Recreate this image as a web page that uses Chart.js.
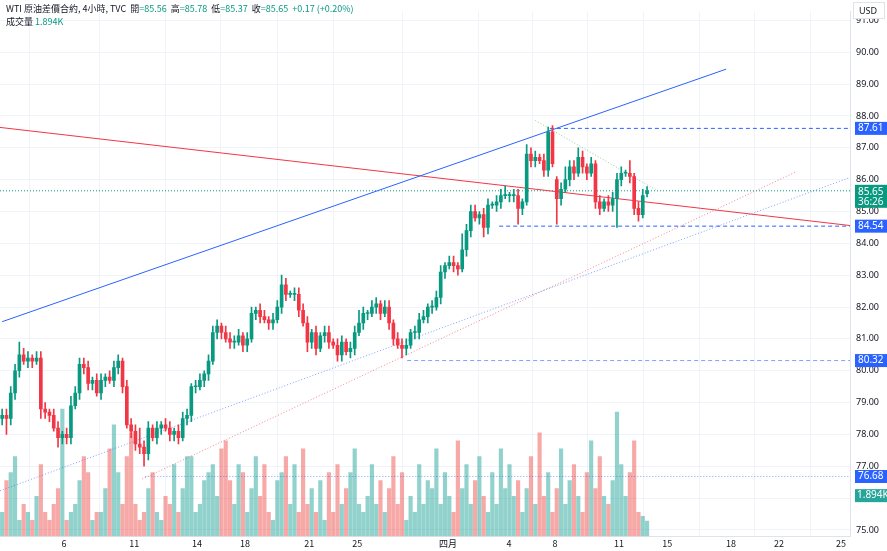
<!DOCTYPE html>
<html><head><meta charset="utf-8">
<script src="https://cdn.jsdelivr.net/npm/chart.js@4"></script>
<style>html,body{margin:0;padding:0;background:#fff}#w{width:887px;height:551px}</style>
</head><body><div id="w"><canvas id="c"></canvas></div>
<script>
const opens=[78.5,78.6,78.5,79.3,80.0,80.5,80.3,80.4,80.3,80.4,
78.8,78.7,78.6,78.2,77.9,78.0,77.9,78.9,79.3,80.2,
80.1,79.6,79.7,79.3,79.7,79.8,79.7,80.1,80.3,79.5,
78.3,78.1,77.7,77.6,77.4,78.2,77.9,78.2,78.3,78.2,
78.0,78.1,77.9,78.5,78.6,79.5,79.5,79.7,79.9,80.3,
81.2,81.4,81.2,81.0,80.9,80.9,81.1,80.8,81.0,81.8,
81.9,81.7,81.6,81.5,81.6,82.0,82.7,82.4,82.4,82.4,
81.9,81.5,80.9,81.2,80.7,81.1,81.2,80.9,80.8,80.5,
80.9,80.6,80.7,81.2,81.5,81.8,81.8,82.0,82.1,81.8,
82.0,81.5,81.0,80.8,80.7,80.8,81.2,81.2,81.6,81.7,
82.0,82.0,82.3,83.1,83.3,83.4,83.3,83.2,83.8,84.4,
85.0,84.8,84.9,84.5,85.2,85.2,85.3,85.5,85.5,85.5,
85.5,85.1,85.3,86.8,86.6,86.7,86.6,86.3,87.5,86.0,
85.4,85.7,86.0,86.4,86.2,86.7,86.4,86.2,86.5,85.3,
85.1,85.3,85.2,85.4,86.0,86.2,86.2,86.1,85.1,84.9,
85.56];
const closes=[78.6,78.5,79.3,80.0,80.5,80.3,80.4,80.3,80.4,78.8,
78.7,78.6,78.2,77.9,78.0,77.9,78.9,79.3,80.2,80.1,
79.6,79.7,79.3,79.7,79.8,79.7,80.1,80.3,79.5,78.3,
78.1,77.7,77.6,77.4,78.2,77.9,78.2,78.3,78.2,78.0,
78.1,77.9,78.5,78.6,79.5,79.5,79.7,79.9,80.3,81.2,
81.4,81.2,81.0,80.9,80.9,81.1,80.8,81.0,81.8,81.9,
81.7,81.6,81.5,81.6,82.0,82.7,82.4,82.4,82.4,81.9,
81.5,80.9,81.2,80.7,81.1,81.2,80.9,80.8,80.5,80.9,
80.6,80.7,81.2,81.5,81.8,81.8,82.0,82.1,81.8,82.0,
81.5,81.0,80.8,80.7,80.8,81.2,81.2,81.6,81.7,82.0,
82.0,82.3,83.1,83.3,83.4,83.3,83.2,83.8,84.4,85.0,
84.8,84.9,84.5,85.2,85.2,85.3,85.5,85.5,85.5,85.5,
85.1,85.3,86.8,86.6,86.7,86.6,86.3,87.5,86.5,85.4,
85.7,86.0,86.4,86.2,86.7,86.4,86.2,86.5,85.3,85.1,
85.3,85.2,85.4,86.0,86.2,86.2,86.1,85.1,84.9,85.5,
85.65];
const wickUp=[0.2,0.2,0.2,0.2,0.4,0.2,0.2,0.1,0.2,0.2,
0.2,0.1,0.2,0.2,0.1,0.2,0.3,0.2,0.2,0.2,
0.2,0.1,0.2,0.2,0.1,0.2,0.2,0.2,0.1,0.2,
0.2,0.2,0.5,0.2,0.2,0.1,0.2,0.1,0.2,0.2,
0.1,0.2,0.2,0.2,0.1,0.2,0.2,0.1,0.2,0.2,
0.2,0.1,0.2,0.2,0.2,0.2,0.1,0.2,0.2,0.1,
0.2,0.2,0.1,0.2,0.2,0.3,0.2,0.1,0.2,0.2,
0.2,0.2,0.1,0.2,0.1,0.2,0.2,0.1,0.2,0.2,
0.1,0.2,0.2,0.4,0.2,0.1,0.2,0.2,0.1,0.2,
0.2,0.1,0.2,0.2,0.2,0.1,0.2,0.2,0.2,0.1,
0.2,0.2,0.2,0.1,0.2,0.2,0.1,0.5,0.2,0.2,
0.2,0.1,0.2,0.2,0.1,0.2,0.2,0.3,0.1,0.2,
0.2,0.1,0.3,0.2,0.2,0.1,0.2,0.15,0.2,0.1,
0.2,0.4,0.2,0.2,0.3,0.2,0.1,0.2,0.1,0.2,
0.1,0.2,0.2,0.2,0.2,0.1,0.4,0.1,0.2,0.2,
0.13];
const wickDn=[0.2,0.5,0.2,0.2,0.2,0.1,0.2,0.2,0.1,0.3,
0.2,0.2,0.1,0.3,0.2,0.2,0.2,0.1,0.2,0.2,
0.2,0.2,0.1,0.2,0.2,0.1,0.2,0.2,0.2,0.1,
0.2,0.2,0.2,0.4,0.2,0.1,0.2,0.2,0.1,0.2,
0.2,0.2,0.1,0.2,0.2,0.2,0.1,0.2,0.2,0.1,
0.2,0.2,0.1,0.2,0.2,0.1,0.2,0.2,0.1,0.2,
0.2,0.1,0.2,0.2,0.1,0.2,0.2,0.1,0.2,0.2,
0.1,0.3,0.2,0.2,0.1,0.2,0.2,0.1,0.2,0.2,
0.1,0.2,0.2,0.1,0.2,0.2,0.1,0.2,0.2,0.1,
0.2,0.2,0.1,0.3,0.2,0.1,0.2,0.2,0.1,0.2,
0.2,0.1,0.2,0.2,0.1,0.2,0.2,0.1,0.2,0.2,
0.1,0.2,0.3,0.2,0.1,0.2,0.2,0.1,0.2,0.2,
0.5,0.2,0.1,0.2,0.2,0.1,0.2,0.2,0.1,0.8,
0.2,0.1,0.2,0.2,0.1,0.2,0.2,0.1,0.2,0.2,
0.1,0.2,0.2,0.9,0.2,0.1,0.2,0.2,0.2,0.1,
0.1];
const volumes=[3,7,8,10,2,4,3,2,5,9,
3,2,4,6,16,2,3,4,7,10,
8,2,3,3,6,11,14,8,4,10,
13,4,2,3,6,8,3,2,5,4,
9,3,6,10,10,3,4,7,8,9,
5,11,12,7,4,9,8,3,6,10,
5,9,3,2,7,8,10,4,9,3,
11,4,6,3,7,2,8,3,9,4,
6,8,11,4,3,5,9,4,7,3,
6,10,4,8,2,5,3,9,4,7,
6,11,4,8,5,3,12,6,9,4,
7,10,5,3,8,4,11,6,9,5,
7,3,6,10,4,13,5,8,3,6,
11,4,7,9,5,3,8,12,6,10,
5,4,7,15.6,9,5,8,12,3,2.5,
1.9];
const dateTicks=[14.4,30.7,45.3,56.5,71.4,82.6,103.7,117.9,128.6,143.5,154.7,169.5,180.7,195.1];
const dateLabels=['6','11','14','18','21','25','四月','4','8','11','15','18','22','25'];
const priceTicks=[75,76,77,78,79,80,81,82,83,84,85,86,87,88,89,90,91];
const blueTrend=[{x:0,y:81.54},{x:168.4,y:89.47}];
const redTrend=[{x:-0.5,y:87.64},{x:197.2,y:84.56}];
const blueDot=[{x:-0.5,y:76.23},{x:197.2,y:86.07}];
const redDot=[{x:32.6,y:76.6},{x:184.4,y:86.23}];
const greenDot=[{x:124,y:87.86},{x:152.3,y:85.66}];
const levelHi=87.61, levelLo=84.54, level80=80.32, level76=76.68, lastPrice=85.65;

const UP='#089981', DN='#f23645';
const idx=closes.map((_,i)=>i);
const isUp=idx.map(i=>closes[i]>=opens[i]);
const bodies=idx.map(i=>{let a=Math.min(opens[i],closes[i]),b=Math.max(opens[i],closes[i]);if(b-a<0.03)b=a+0.03;return {x:i,y:[a,b]};});
const wicks=idx.map(i=>({x:i,y:[Math.min(opens[i],closes[i])-wickDn[i],Math.max(opens[i],closes[i])+wickUp[i]]}));
const vols=idx.map(i=>({x:i,y:volumes[i]}));
const lineDs=(d,c,w,dash)=>({type:'line',data:d,borderColor:c,borderWidth:w,borderDash:dash,pointRadius:0,yAxisID:'y',order:5});
const hLine=(x0,v,c,dash)=>lineDs([{x:x0,y:v},{x:197.2,y:v}],c,1,dash);

const overlay={id:'ov',afterDraw(ch){
 const g=ch.ctx,y=ch.scales.y,ca=ch.chartArea;
 g.save();
 g.font='9px "Noto Sans CJK TC", "Noto Sans", sans-serif';g.textBaseline='middle';
 let x=6;const seg=(t,c)=>{g.fillStyle=c;g.fillText(t,x,9);x+=g.measureText(t).width;};
 seg('WTI 原油差價合約, 4小時, TVC  ','#131722');seg('開','#131722');seg('=85.56  ',UP);seg('高','#131722');seg('=85.78  ',UP);
 seg('低','#131722');seg('=85.37  ',UP);seg('收','#131722');seg('=85.65  ',UP);seg('+0.17 (+0.20%)',UP);
 x=6;g.fillStyle='#131722';g.fillText('成交量',x,22);g.fillStyle=UP;g.fillText('1.894K',x+29,22);
 g.font='10px "Noto Sans", sans-serif';
 const box=(v,t,c,t2)=>{const py=t2?y.getPixelForValue(v)+6:y.getPixelForValue(v);const h=t2?23:13;g.fillStyle=c;g.fillRect(ca.right+5,py-(t2?12:6.5),32,h);g.fillStyle='#fff';g.textAlign='left';
  if(t2){g.fillText(t,ca.right+8,py-5);g.fillText(t2,ca.right+8,py+5);}else g.fillText(t,ca.right+8,py);};
 box(levelHi,'87.61','#2962ff');box(lastPrice,'85.65',UP,'36:26');box(levelLo,'84.54','#2962ff');box(level80,'80.32','#2962ff');box(level76,'76.68','#2962ff');
 const vy=ch.scales.v.getPixelForValue(5.1);g.fillStyle='#26a69a';g.fillRect(ca.right+5,vy-6.5,32,13);g.fillStyle='#fff';g.fillText('1.894K',ca.right+7,vy);
 g.strokeStyle='#e0e3eb';g.fillStyle='#fff';g.fillRect(ca.right+3,2,32,17);g.strokeRect(ca.right+3.5,2.5,31,16);g.fillStyle='#131722';g.font='9px "Noto Sans", sans-serif';g.fillText('USD',ca.right+9,11);
 g.restore();
}};

new Chart(document.getElementById('c'),{
 type:'bar',
 data:{datasets:[
  {data:bodies,backgroundColor:idx.map(i=>isUp[i]?UP:DN),barThickness:3,grouped:false,yAxisID:'y',order:2},
  {data:wicks,backgroundColor:idx.map(i=>isUp[i]?UP:DN),barThickness:1,grouped:false,yAxisID:'y',order:3},
  {data:vols,backgroundColor:idx.map(i=>isUp[i]?'rgba(38,166,154,0.5)':'rgba(239,83,80,0.5)'),barThickness:3.5,grouped:false,yAxisID:'v',order:10},
  lineDs(blueTrend,'#2962ff',1,[]),
  lineDs(redTrend,'#f23645',1,[]),
  lineDs(blueDot,'rgba(41,98,255,0.6)',1,[1,2]),
  lineDs(redDot,'rgba(242,54,69,0.6)',1,[1,2]),
  lineDs(greenDot,'rgba(76,175,80,0.6)',1,[1,2]),
  hLine(127.4,levelHi,'#2962ff',[4,3]),
  hLine(115.6,levelLo,'#2962ff',[4,3]),
  hLine(94.2,level80,'rgba(41,98,255,0.6)',[4,3]),
  hLine(33.3,level76,'rgba(41,98,255,0.6)',[1,2]),
  lineDs([{x:-0.5,y:lastPrice},{x:197.2,y:lastPrice}],UP,1,[1,2])
 ]},
 options:{responsive:true,maintainAspectRatio:false,animation:false,
  layout:{padding:0},
  plugins:{legend:{display:false},tooltip:{enabled:false}},
  scales:{
   x:{type:'linear',min:-0.5,max:197.2,offset:false,
      afterBuildTicks(s){s.ticks=dateTicks.map(v=>({value:v}));},
      ticks:{callback:(v,i)=>dateLabels[i],autoSkip:false,maxRotation:0,color:'#131722',font:{size:9,family:'"Noto Sans CJK TC", "Noto Sans", sans-serif'},padding:2},
      grid:{color:'#f0f3fa',drawTicks:false},border:{color:'#e0e3eb'}},
   y:{position:'right',min:74.805,max:91.283,
      afterBuildTicks(s){s.ticks=priceTicks.map(v=>({value:v}));},
      afterFit(s){s.width=37;},
      ticks:{callback:v=>v.toFixed(2),color:'#131722',font:{size:9,family:'"Noto Sans", sans-serif'},padding:6},
      grid:{color:'#f0f3fa',drawTicks:false},border:{color:'#e0e3eb'}},
   v:{display:false,min:0,max:66}
  }},
 plugins:[overlay]
});
</script></body></html>
